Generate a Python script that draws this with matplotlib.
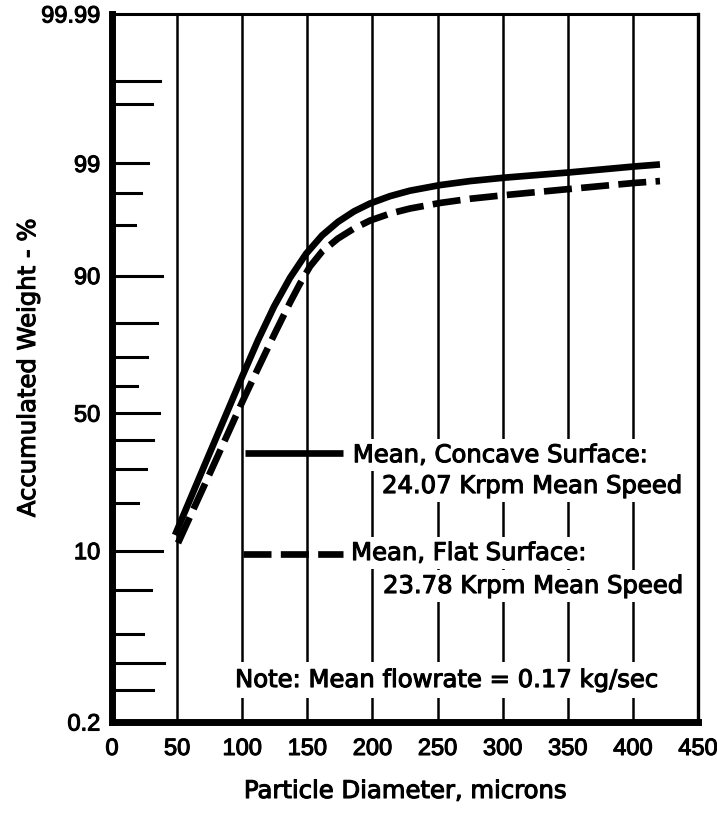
import numpy as np
import matplotlib
matplotlib.use("Agg")
import matplotlib.pyplot as plt
import matplotlib.patheffects as pe
from statistics import NormalDist

# ---------------- data ----------------
concave_x = [48.4, 69.5, 99.8, 112.1, 124.4, 136.7, 149.0, 161.3, 173.5, 185.8, 198.1,
             213.5, 228.8, 251.9, 274.9, 301.8, 350.9, 400.9, 420.8]
concave_y = [12.80, 29.80, 63.17, 75.15, 83.95, 89.63, 93.11, 95.11, 96.26, 96.99, 97.46,
             97.84, 98.09, 98.32, 98.47, 98.59, 98.754, 98.922, 98.975]

flat_x = [50.7, 76.3, 99.8, 112.1, 124.4, 136.7, 144.4, 152.0, 161.3, 173.5, 185.8, 198.1,
          213.5, 228.8, 251.9, 274.9, 301.8, 350.9, 400.9, 420.8]
flat_y = [11.31, 29.80, 53.94, 66.12, 76.66, 84.86, 88.64, 91.40, 93.39, 94.81, 95.73, 96.36,
          96.85, 97.17, 97.49, 97.71, 97.89, 98.16, 98.40, 98.47]

x_ticks = [0, 50, 100, 150, 200, 250, 300, 350, 400, 450]
y_tick_vals = [0.2, 10, 50, 90, 99, 99.99]
y_tick_labels = ["0.2", "10", "50", "90", "99", "99.99"]
# inner probability-paper tick marks on the left axis
grid_levels = [99.9, 99.8, 99, 98, 96, 90, 80, 70, 60, 50, 40, 30, 20, 10, 5, 2, 1, 0.5]
grid_lengths = [0.082, 0.068, 0.061, 0.049, 0.039, 0.085, 0.077, 0.060, 0.043,
                0.080, 0.070, 0.058, 0.044, 0.085, 0.067, 0.053, 0.089, 0.070]

label_concave = ["Mean, Concave Surface:", "24.07 Krpm Mean Speed"]
label_flat = ["Mean, Flat Surface:", "23.78 Krpm Mean Speed"]
note_text = "Note: Mean flowrate = 0.17 kg/sec"
x_label = "Particle Diameter, microns"
y_label = "Accumulated Weight - %"

# ---------------- probability scale ----------------
_nd = NormalDist()
_ppf = np.vectorize(_nd.inv_cdf, otypes=[float])
_cdf = np.vectorize(_nd.cdf, otypes=[float])


def fwd(p):
    p = np.clip(np.asarray(p, dtype=float) / 100.0, 1e-9, 1 - 1e-9)
    return _ppf(p)


def inv(z):
    return _cdf(np.asarray(z, dtype=float)) * 100.0


# ---------------- figure ----------------
W, H = 717, 818
fig = plt.figure(figsize=(W / 100, H / 100), dpi=100)
ax = fig.add_axes([112 / W, 1 - 722 / H, 586 / W, 708 / H])
ax.set_yscale("function", functions=(fwd, inv))
ax.set_xlim(0, 450)
ax.set_ylim(0.2, 99.99)

heavy = [pe.withStroke(linewidth=0.8, foreground="black")]
tick_font = dict(family=["Liberation Sans", "DejaVu Sans"], size=17.0)
text_font = dict(family=["DejaVu Sans"], size=17.5)

ax.set_xticks(x_ticks)
ax.set_xticklabels([str(v) for v in x_ticks], **tick_font)
ax.set_yticks(y_tick_vals)
ax.set_yticklabels(y_tick_labels, **tick_font)
for lab in ax.get_xticklabels() + ax.get_yticklabels():
    lab.set_path_effects(heavy)
ax.yaxis.set_minor_locator(matplotlib.ticker.NullLocator())
ax.tick_params(axis="x", length=0, pad=11.5)
ax.tick_params(axis="y", length=0, pad=8.5)

ax.grid(axis="x", color="black", linewidth=1.8)
ax.grid(axis="y", visible=False)

for side, lw in [("left", 5.0), ("bottom", 5.0), ("top", 2.2), ("right", 2.4)]:
    ax.spines[side].set_linewidth(lw)
    ax.spines[side].set_color("black")
    ax.spines[side].set_capstyle("projecting")
    ax.spines[side].set_zorder(6)

for lvl, ln in zip(grid_levels, grid_lengths):
    ax.axhline(lvl, xmin=0, xmax=ln, color="black", linewidth=2.2, zorder=2)

ax.plot(concave_x, concave_y, color="black", linewidth=4.8,
        solid_capstyle="butt", solid_joinstyle="round", zorder=4)
ax.plot(flat_x, flat_y, color="black", linewidth=4.8,
        linestyle=(0, (4.2, 1.4)), dash_capstyle="butt", dash_joinstyle="round", zorder=4)

# legend-like annotations (axes-fraction placement)
ax.plot([0.227, 0.394], [0.380, 0.380], transform=ax.transAxes,
        color="black", linewidth=4.8, solid_capstyle="butt", zorder=5)
ax.plot([0.2235, 0.394], [0.2373, 0.2373], transform=ax.transAxes,
        color="black", linewidth=4.8, linestyle=(0, (4.2, 1.4)),
        dash_capstyle="butt", zorder=5)

box = dict(facecolor="white", edgecolor="none", pad=3)
texts = [
    (0.411, 0.367, label_concave[0], box),
    (0.4608, 0.3234, label_concave[1], box),
    (0.408, 0.2288, label_flat[0], box),
    (0.4625, 0.1822, label_flat[1], box),
    (0.210, 0.0494, note_text, dict(facecolor="white", edgecolor="none", pad=4)),
]
for tx, ty, s, b in texts:
    ax.text(tx, ty, s, transform=ax.transAxes, va="baseline", ha="left",
            bbox=b, zorder=5, path_effects=heavy, **text_font)

fig.text(405 / W, 1 - 798 / H, x_label, ha="center", va="baseline",
         path_effects=heavy, **text_font)
fig.text(28 / W, 1 - 368 / H, y_label, rotation=90,
         ha="center", va="center", path_effects=heavy, **text_font)

fig.savefig("out.png", dpi=100, facecolor="white")
